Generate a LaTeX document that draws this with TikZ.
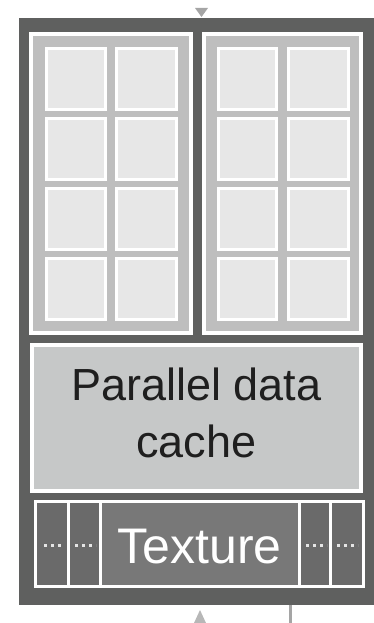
\documentclass[tikz,border=0pt]{standalone}
\usepackage{fontspec}
\setmainfont{Liberation Sans}
\definecolor{outerdark}{HTML}{5F605F}
\definecolor{panelgray}{HTML}{BEBEBE}
\definecolor{cellfill}{HTML}{E7E7E7}
\definecolor{cachefill}{HTML}{C6C8C8}
\definecolor{texcell}{HTML}{6A6A6A}
\definecolor{texbox}{HTML}{787878}
\definecolor{arrowgray}{HTML}{A5A5A5}
\begin{document}
\begin{tikzpicture}[x=1pt,y=-1pt,
  panel/.style={fill=panelgray,draw=white,line width=4pt},
  cell/.style={fill=cellfill,draw=white,line width=3pt},
  cachebox/.style={fill=cachefill,draw=white,line width=4pt},
  strip/.style={fill=texcell,draw=white,line width=3pt},
  sep/.style={draw=white,line width=3pt},
  dotline/.style={draw=white!90!black,line width=3pt,dash pattern=on 3pt off 4pt},
  lbl/.style={inner sep=0pt,anchor=base}]
\useasboundingbox (0,0) rectangle (374,623);
% outer dark box
\fill[outerdark] (19,18) rectangle (374,605);
% top triangle
\fill[arrowgray] (195,8) -- (208,8) -- (201.5,17) -- cycle;
% bottom arrow and line
\fill[arrowgray!80] (194,623) -- (206,623) -- (200,610) -- cycle;
\draw[arrowgray,line width=3pt] (290,605) -- (290,623);
% left SM panel
\path[panel] (31,34) rectangle (191,333);
\foreach \r in {0,1,2,3}{
  \path[cell] (46.5,{48.5+70*\r}) rectangle (105.5,{109.5+70*\r});
  \path[cell] (116.5,{48.5+70*\r}) rectangle (176.5,{109.5+70*\r});
}
% right SM panel
\path[panel] (204,34) rectangle (361,333);
\foreach \r in {0,1,2,3}{
  \path[cell] (218.5,{48.5+70*\r}) rectangle (276.5,{109.5+70*\r});
  \path[cell] (288.5,{48.5+70*\r}) rectangle (348.5,{109.5+70*\r});
}
% parallel data cache
\path[cachebox] (32,345) rectangle (361,491);
\node[lbl,font=\fontsize{45}{57}\selectfont,text=black!88] (pdc) at (196.5,400) {Parallel data};
\node[lbl,font=\fontsize{45}{57}\selectfont,text=black!88] (cache) at (196.5,457) {cache};
% texture strip
\path[strip] (35.5,501.5) rectangle (363.5,586.5);
\draw[sep] (68,501.5) -- (68,586.5);
\draw[sep] (330.5,501.5) -- (330.5,586.5);
\path[fill=texbox,draw=white,line width=3pt] (100.5,501.5) rectangle (299,586.5);
\node[lbl,font=\fontsize{50}{56}\selectfont,text=white] (tex) at (199.5,563) {Texture};
\draw[dotline] (44,545) -- (62,545);
\draw[dotline] (75,545) -- (96,545);
\draw[dotline] (306,545) -- (327,545);
\draw[dotline] (337,545) -- (358,545);
\end{tikzpicture}
\end{document}
